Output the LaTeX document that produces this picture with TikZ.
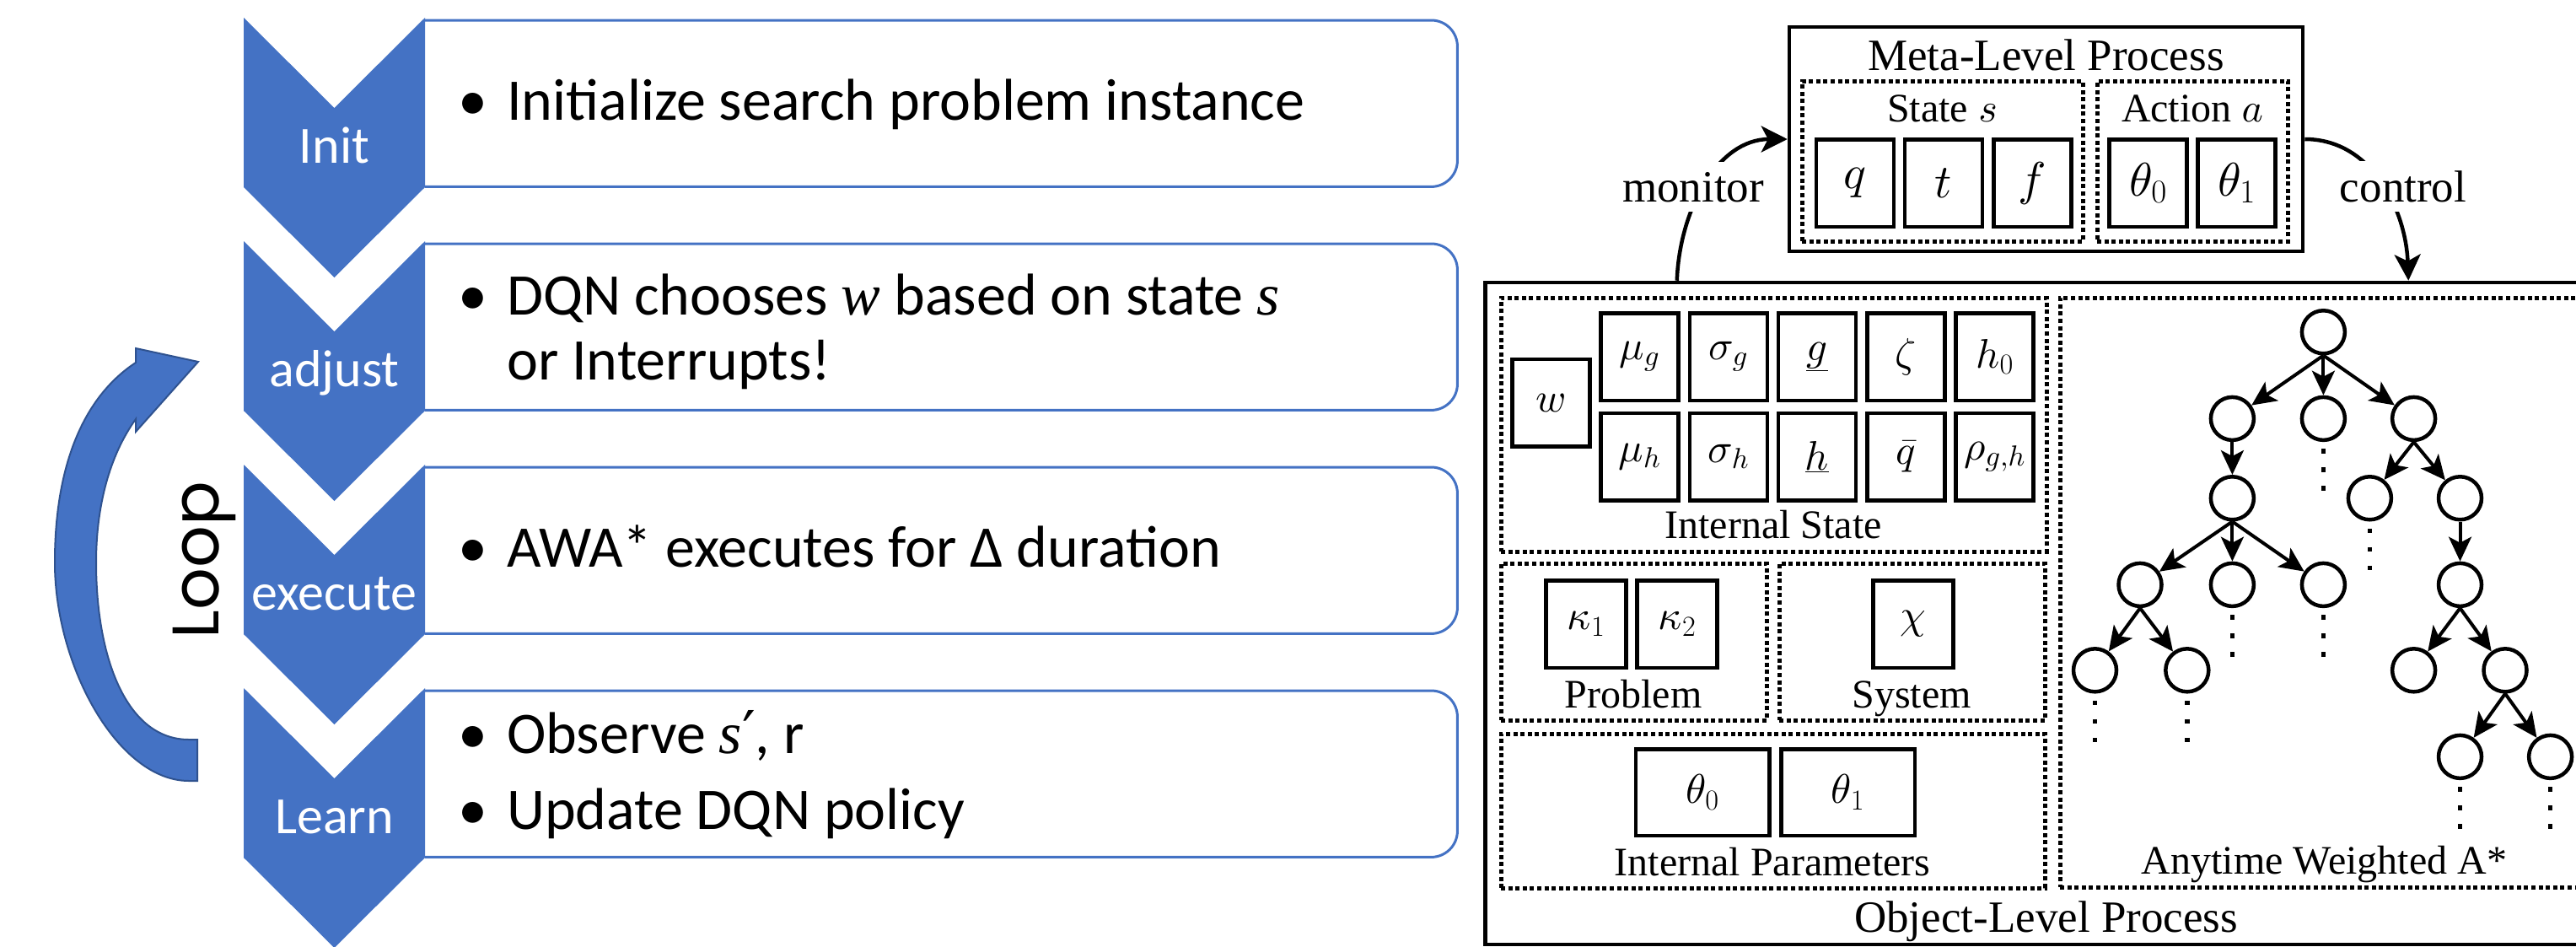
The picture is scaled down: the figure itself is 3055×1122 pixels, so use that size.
\RequirePackage{fix-cm}
\documentclass[tikz,border=0pt]{standalone}
\usepackage{fontspec}
\setmainfont{Liberation Serif}
\newfontfamily\calib{Carlito}
\newfontfamily\popfont{Poppins}
\newfontfamily\djserif{DejaVu Serif}
\DeclareFontShape{OML}{cmm}{m}{it}{<->cmmi10}{}
\usetikzlibrary{arrows.meta}
\definecolor{pblue}{HTML}{4472C4}
\definecolor{pedge}{HTML}{2F528F}
\newcommand{\mi}[1]{{\rmfamily\itshape #1}}
\newcommand{\bul}{\makebox[58pt][l]{•}}
\tikzset{
  chevlabel/.style={text=white, font=\calib\fontsize{62}{74}\selectfont, inner sep=0, anchor=base},
  bultext/.style={font=\calib\fontsize{70}{84}\selectfont, inner sep=0, anchor=base west},
  bluebox/.style={draw=pblue, line width=3, rounded corners=31},
  rmtext/.style={font=\fontsize{53}{64}\selectfont, inner sep=0, anchor=base},
  intext/.style={font=\fontsize{48}{58}\selectfont, inner sep=0, anchor=base},
  sbox/.style={draw, line width=4.5, minimum width=92, minimum height=103.5, inner sep=0, font=\fontsize{49}{58}\selectfont},
  mbox/.style={sbox, font=\fontsize{56}{66}\selectfont},
  wbox/.style={sbox, minimum width=95},
  pbox/.style={sbox, minimum width=158.5, minimum height=102.5},
  dotbox/.style={draw, line width=5, dash pattern=on 5 off 3.6, inner sep=0},
  bigbox/.style={draw, line width=4.5, inner sep=0},
  ctrlarrow/.style={line width=4.5, -{Stealth[length=31,width=31,inset=8]}},
  tnode/.style={circle, draw, line width=4.5, minimum size=51, inner sep=0},
  tedge/.style={line width=4, -{Stealth[length=29,width=27,inset=7]}},
  vdotline/.style={line width=5.4, dash pattern=on 5.4 off 16.6},
  arclabel/.style={rmtext, fill=white, inner xsep=3, inner ysep=11.5}
}
\begin{document}
\begin{tikzpicture}[x=1pt,y=-1pt]
\useasboundingbox (0,0) rectangle (3055,1122);
\fill[white] (0,0) rectangle (3055,1122);
\begin{scope}
\clip (0,0) rectangle (3055,1122);

% ---------------- left: process ----------------
\foreach \t/\nm in {21/binit, 286/badj, 551/bexe, 816/blrn}{
  \node[minimum width=1224, minimum height=197, anchor=north west, inner sep=0] (\nm) at (504,\t+3) {};
  \draw[bluebox] (\nm.north west) -- (\nm.north east) -- (\nm.south east) -- (\nm.south west);
}
\foreach \t/\lab/\nm in {21/Init/init, 286/adjust/adj, 551/execute/exe, 816/Learn/lrn}{
  \fill[pblue] (289,\t) -- (396.5,\t+107) -- (504,\t) -- (504,\t+201) -- (396.5,\t+308) -- (289,\t+201) -- cycle;
  \node[chevlabel] (\nm) at (396.5,\t+172) {\lab};
}
\node[bultext] (t1) at (543,142) {\bul Initialize search problem instance};
\node[bultext] (t2) at (543,373) {\bul DQN chooses \mi{w} based on state \mi{s}};
\node[bultext] (t2b) at (601,450) {or Interrupts!};
\node[bultext] (t3) at (543,672) {\bul AWA* executes for Δ duration};
\node[bultext] (t4) at (543,893) {\bul Observe \mi{s}{\djserif ′}, r};
\node[bultext] (t4b) at (543,983) {\bul Update DQN policy};

% loop arrow
\filldraw[fill=pblue, draw=pedge, line width=2]
  (161,413) -- (235,429) -- (161,512) -- (161,497)
  .. controls (130,540) and (114,600) .. (114,667)
  .. controls (114,780) and (150,877) .. (224,877)
  -- (234,877) -- (234,926) -- (224,926)
  .. controls (140,926) and (65,790) .. (65,667)
  .. controls (65,550) and (100,470) .. (161,430) -- cycle;
\node[rotate=90, font=\popfont\fontsize{78}{90}\selectfont, inner sep=0] (loop) at (242.6,664) {Loop};

% ---------------- right: meta-level ----------------
\node[bigbox, minimum width=609, minimum height=266] (meta) at (2426.5,165) {};
\node[rmtext] (metat) at (2426.5,83) {Meta-Level Process};
\node[dotbox, minimum width=333, minimum height=190] (stbox) at (2303.5,191) {};
\node[dotbox, minimum width=226.5, minimum height=190] (acbox) at (2600.25,191) {};
\node[intext] (stt) at (2303.5,144) {State $s$};
\node[intext] (act) at (2600,144) {Action $a$};
\node[mbox] (q) at (2200,217) {$q$};
\node[mbox] (tt) at (2305,217) {$t$};
\node[mbox] (ff) at (2410.3,217) {$f$};
\node[mbox] (ma0) at (2547.4,217) {$\theta_0$};
\node[mbox] (ma1) at (2652.5,217) {$\theta_1$};

% ---------------- object-level ----------------
\node[bigbox, minimum width=1328.5, minimum height=785] (obj) at (2425.75,727.5) {};
\node[rmtext] (objt) at (2426.5,1105) {Object-Level Process};

\node[dotbox, minimum width=647, minimum height=301] (ist) at (2103.5,503.5) {};
\node[dotbox, minimum width=315, minimum height=186] (prb) at (1937.5,761) {};
\node[dotbox, minimum width=315, minimum height=186] (sys) at (2267.5,761) {};
\node[dotbox, minimum width=645, minimum height=183] (ipr) at (2102.5,961.5) {};
\node[dotbox, minimum width=627, minimum height=699] (awa) at (2756.5,702.5) {};

\node[sbox] (w) at (1839.5,477.5) {$w$};
\node[sbox] (mug) at (1944.4,423) {$\mu_g$};
\node[sbox] (sig) at (2050,423) {$\sigma_g$};
\node[sbox] (lg) at (2155,423) {$\underline{g}$};
\node[sbox] (zt) at (2260.5,423) {$\zeta$};
\node[sbox] (h0) at (2365.5,423) {$h_0$};
\node[sbox] (muh) at (1944.4,541.75) {$\mu_h$};
\node[sbox] (sih) at (2050,541.75) {$\sigma_h$};
\node[sbox] (lh) at (2155,541.75) {$\underline{h}$};
\node[sbox] (qb) at (2260.5,541.75) {$\bar{q}$};
\node[sbox] (rho) at (2365.5,541.75) {$\rho_{g,h}$};
\node[intext] (istt) at (2103,638.5) {Internal State};

\node[wbox] (k1) at (1881,740) {$\kappa_1$};
\node[wbox] (k2) at (1989,740) {$\kappa_2$};
\node[intext] (prbt) at (1937,839) {Problem};
\node[wbox] (chi) at (2269,740) {$\chi$};
\node[intext] (syst) at (2267,839) {System};

\node[pbox] (p0) at (2019,939.5) {$\theta_0$};
\node[pbox] (p1) at (2191.5,939.5) {$\theta_1$};
\node[intext] (iprt) at (2102,1038) {Internal Parameters};

\node[intext] (awat) at (2756.5,1036) {Anytime Weighted A*};

% monitor / control
\coordinate (monstart) at ([xshift=229.5]obj.north west);
\coordinate (ctrlend) at ([xshift=1097]obj.north west);
\draw[ctrlarrow] (monstart) to[out=88,in=180] (meta.west);
\draw[ctrlarrow] (meta.east) to[out=0,in=92] (ctrlend);
\node[arclabel] (mon) at (2008,239) {monitor};
\node[arclabel] (ctl) at (2850,239) {control};

% tree
\node[tnode] (r) at (2755.4,393.75) {};
\node[tnode] (a1) at (2647.4,496.4) {};
\node[tnode] (a2) at (2755.4,496.4) {};
\node[tnode] (a3) at (2862.6,496.4) {};
\node[tnode] (b1) at (2647.4,590.75) {};
\node[tnode] (b2) at (2810.4,590.75) {};
\node[tnode] (b3) at (2917.5,590.75) {};
\node[tnode] (c1) at (2538,693.4) {};
\node[tnode] (c2) at (2647.4,693.4) {};
\node[tnode] (c3) at (2755.4,693.4) {};
\node[tnode] (c4) at (2917.5,693.4) {};
\node[tnode] (d1) at (2484.5,794.8) {};
\node[tnode] (d2) at (2593.8,794.8) {};
\node[tnode] (d3) at (2862.6,794.8) {};
\node[tnode] (d4) at (2971,794.8) {};
\node[tnode] (e1) at (2917.5,897.4) {};
\node[tnode] (e2) at (3024.6,897.4) {};
\foreach \p/\c in {r/a1, r/a2, r/a3, a1/b1, a3/b2, a3/b3, b1/c1, b1/c2, b1/c3, b3/c4, c1/d1, c1/d2, c4/d3, c4/d4, d4/e1, d4/e2}{
  \draw[tedge] (\p.south) -- (\c);
}
\foreach \n in {a2, b2, c2, c3, d1, d2, e1, e2}{
  \draw[vdotline] (\n.center) ++(0,36) -- ++(0,49.4);
}
\end{scope}
\end{tikzpicture}
\end{document}
